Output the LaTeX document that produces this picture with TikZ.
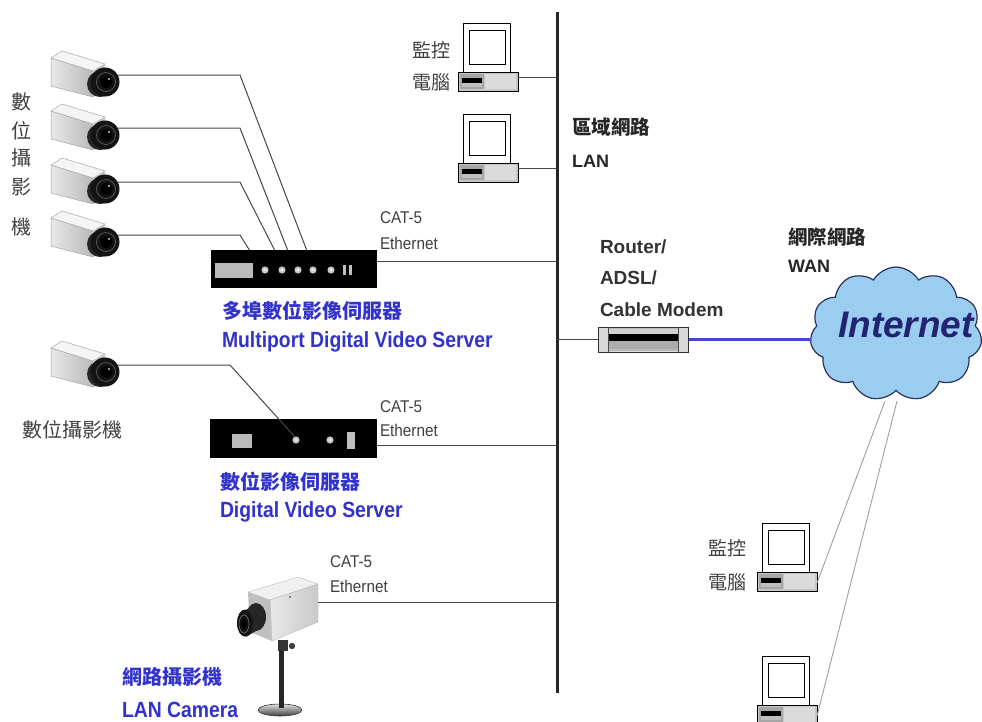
\documentclass[tikz,border=0pt]{standalone}
\usepackage{fontspec}
\setmainfont{Liberation Sans}
\newfontfamily\cjk{Noto Sans CJK TC}
\newfontfamily\narrow{Liberation Sans}[FakeStretch=0.9]
\newfontfamily\labelsans{Liberation Sans}[FakeStretch=0.88]
\usetikzlibrary{shapes.symbols}

\definecolor{labelblue}{RGB}{50,50,205}
\definecolor{cloudfill}{RGB}{155,205,240}
\definecolor{cloudline}{RGB}{40,50,90}
\definecolor{inetnavy}{RGB}{35,35,115}
\definecolor{wanblue}{RGB}{70,70,210}
\definecolor{wirecol}{RGB}{70,70,70}

\tikzset{
  txt/.style={inner sep=0pt, outer sep=0pt},
  pclabel/.style={txt, anchor=west, text=black!75, font={\cjk\fontsize{19}{19}\selectfont}},
  camlabel/.style={txt, text=black!75, font={\cjk\fontsize{20}{20}\selectfont}},
  netcjk/.style={txt, anchor=west, text=black!85, font={\cjk\bfseries\fontsize{19.5}{19.5}\selectfont}},
  netlatin/.style={txt, anchor=base west, text=black!85, font={\bfseries\fontsize{18}{18}\selectfont}},
  routerlabel/.style={txt, anchor=base west, text=black!80, font={\bfseries\fontsize{19}{19}\selectfont}},
  cablelabel/.style={txt, anchor=base west, text=black!75, font={\narrow\fontsize{17}{17}\selectfont}},
  bluecjk/.style={txt, anchor=west, text=labelblue, font={\cjk\bfseries\fontsize{20}{20}\selectfont}},
  bluelatin/.style={txt, anchor=base west, text=labelblue, font={\labelsans\bfseries\fontsize{22}{22}\selectfont}},
  wire/.style={draw=wirecol, line width=1pt},
  wanwire/.style={draw=gray!75, line width=0.9pt},
  % small box camera, origin at the lens centre
  boxcam/.pic={
    \shadedraw[left color=gray!18, right color=gray!55, draw=gray!70, line width=0.5pt]
      (-54,-24) -- (-12,-11) -- (-12,15) -- (-54,4) -- cycle;
    \filldraw[fill=gray!8, draw=gray!70, line width=0.5pt]
      (-54,-24) -- (-43,-31) -- (0,-18) -- (-12,-11) -- cycle;
    \fill[gray!45] (-12,-11) -- (0,-18) -- (0,10) -- (-12,15) -- cycle;
    \fill[black!85] (-5,2) circle (13);
    \fill[black!92] (0,0) circle (14.5);
    \draw[black!60, line width=0.6pt] (1,0) circle (9.5);
    \fill[black] (1.5,0) circle (6);
    \fill[gray!40] (4,-3) circle (1.2);
    \coordinate (-port) at (13,-7);
  },
  % desktop computer, origin at the top right corner of the base
  pc/.pic={
    \draw[line width=0.8pt, fill=white] (-55,-49) rectangle (-8,0);
    \draw[line width=0.8pt] (-49,-42) rectangle (-13,-8);
    \draw[line width=0.6pt, fill=gray!45] (-60,0) rectangle (0,19);
    \fill[gray!70] (-58,2) rectangle (-34,17);
    \fill[gray!50] (-56,11) rectangle (-36,15);
    \fill[black] (-56,6) rectangle (-36,11);
    \fill[gray!28] (-33,2) rectangle (-2,17);
    \coordinate (-lan) at (0,5);
    \coordinate (-wan) at (0,11);
  }
}

\begin{document}
\begin{tikzpicture}[x=1pt, y=-1pt]
\useasboundingbox (0,0) rectangle (982,721);
\fill[white] (0,0) rectangle (982,721);

% ---------- LAN backbone ----------
\coordinate (lanTop) at (557,12);
\coordinate (lanBot) at (557,693);
\draw[line width=3pt, black!85] (lanTop) -- (lanBot);

% ---------- monitoring PCs on the LAN ----------
\pic (pc1) at (518,72) {pc};
\pic (pc2) at (518,163) {pc};
\node[pclabel] (pc1a) at (412,50) {監控};
\node[pclabel] (pc1b) at (412,82) {電腦};
\draw[wire] (pc1-lan) -- (pc1-lan -| lanTop);
\draw[wire] (pc2-lan) -- (pc2-lan -| lanTop);

\node[netcjk] (lanzh) at (572,127) {區域網路};
\node[netlatin] (lanen) at (572,167) {LAN};

% ---------- four cameras and the multiport server ----------
\pic (c1) at (105,82) {boxcam};
\pic (c2) at (105,135) {boxcam};
\pic (c3) at (105,189) {boxcam};
\pic (c4) at (105,242) {boxcam};

\node[camlabel] (v1) at (22,102) {數};
\node[camlabel] (v2) at (22,131) {位};
\node[camlabel] (v3) at (22,158) {攝};
\node[camlabel] (v4) at (22,187) {影};
\node[camlabel] (v5) at (22,227) {機};

\coordinate (bendA) at (240,0);
\coordinate (mpsIn1) at (307,251);
\coordinate (mpsIn2) at (288,251);
\coordinate (mpsIn3) at (275,251);
\coordinate (mpsIn4) at (250,251);
\draw[wire] (c1-port) -- (c1-port -| bendA) -- (mpsIn1);
\draw[wire] (c2-port) -- (c2-port -| bendA) -- (mpsIn2);
\draw[wire] (c3-port) -- (c3-port -| bendA) -- (mpsIn3);
\draw[wire] (c4-port) -- (c4-port -| bendA) -- (mpsIn4);

\node[fill=black, minimum width=166pt, minimum height=38pt, inner sep=0pt, anchor=north west] (mps) at (211,250) {};
\fill[gray!55] (215,263) rectangle (253,278);
\foreach \px in {265,282,298,313,331}{
  \fill[gray!45] (\px,270) circle (3.6);
  \fill[white!85!gray] (\px,270) circle (1.6);
}
\fill[gray!50] (343,265) rectangle (345.5,275);
\fill[gray!50] (349,265) rectangle (351.5,275);
\coordinate (mpsOut) at (377,261);
\draw[wire] (mpsOut) -- (mpsOut -| lanTop);
\node[cablelabel] (cat1) at (380,223) {CAT-5};
\node[cablelabel] (eth1) at (380,249) {Ethernet};
\node[bluecjk] (mpszh) at (222,311) {多埠數位影像伺服器};
\node[bluelatin] (mpsen) at (222,347) {Multiport Digital Video Server};

% ---------- single camera and video server ----------
\pic (c5) at (105,372) {boxcam};
\node[camlabel, anchor=west] (c5lbl) at (22,430) {數位攝影機};

\node[fill=black, minimum width=167pt, minimum height=39pt, inner sep=0pt, anchor=north west] (dvs) at (210,419) {};
\fill[gray!55] (232,434) rectangle (252,448);
\fill[gray!45] (296,440) circle (3.6);
\fill[white!85!gray] (296,440) circle (1.6);
\fill[gray!45] (330,440) circle (3.6);
\fill[white!85!gray] (330,440) circle (1.6);
\fill[gray!50] (347,432) rectangle (355,449);
\coordinate (bendB) at (230,0);
\coordinate (dvsIn) at (295,437);
\draw[wire] (c5-port) -- (c5-port -| bendB) -- (dvsIn);
\coordinate (dvsOut) at (377,445);
\draw[wire] (dvsOut) -- (dvsOut -| lanTop);
\node[cablelabel] (cat2) at (380,412) {CAT-5};
\node[cablelabel] (eth2) at (380,436) {Ethernet};
\node[bluecjk] (dvszh) at (220,482) {數位影像伺服器};
\node[bluelatin] (dvsen) at (220,517) {Digital Video Server};

% ---------- LAN camera on its stand ----------
\shadedraw[top color=gray!25, bottom color=black!75, draw=black!80, line width=0.6pt] (280,710) ellipse (22 and 6);
\fill[black!85] (279,646) rectangle (284,708);
\fill[black!80] (278,640) rectangle (288,651);
\fill[black!75] (292,646) circle (3.2);
\filldraw[fill=gray!12, draw=gray!55, line width=0.4pt] (248,592) -- (298,577) -- (318,584) -- (270,600) -- cycle;
\shadedraw[left color=gray!18, right color=gray!42, draw=gray!55, line width=0.4pt] (270,600) -- (318,584) -- (318,622) -- (272,641) -- cycle;
\fill[gray!50] (248,592) -- (270,600) -- (272,641) -- (250,632) -- cycle;
\fill[black!60] (290,597) circle (1.2);
\fill[black!85] (256,617) ellipse (10 and 14);
\fill[black!85] (246,610) -- (256,603) -- (256,631) -- (246,637) -- cycle;
\fill[black!92] (245,623) ellipse (8 and 13.5);
\draw[black!55, line width=0.6pt] (244,624) ellipse (5 and 9);
\fill[black] (244,624) ellipse (3 and 5.5);
\coordinate (lcOut) at (318,602);
\draw[wire] (lcOut) -- (lcOut -| lanTop);
\node[cablelabel] (cat3) at (330,567) {CAT-5};
\node[cablelabel] (eth3) at (330,592) {Ethernet};
\node[bluecjk] (lczh) at (122,677) {網路攝影機};
\node[bluelatin] (lcen) at (122,717) {LAN Camera};

% ---------- router and the Internet ----------
\node[draw=black!80, line width=0.6pt, fill=gray!30, minimum width=90pt, minimum height=25pt, inner sep=0pt, anchor=north west] (router) at (598,327) {};
\fill[gray!55] (608,328) rectangle (678,351);
\fill[gray!35] (608,329) rectangle (678,334);
\fill[black] (608,334) rectangle (678,341);
\fill[gray!65] (608,341) rectangle (678,349);
\draw[black!70, line width=0.5pt] (608,327) -- (608,352) (678,327) -- (678,352);
\draw[wire] (router.west) -- (router.west -| lanTop);
\node[routerlabel] (rt1) at (600,253) {Router/};
\node[routerlabel] (rt2) at (600,284) {ADSL/};
\node[routerlabel] (rt3) at (600,316) {Cable Modem};

\node[cloud, cloud puffs=11, cloud puff arc=120, cloud ignores aspect, draw=cloudline, line width=1.2pt, fill=cloudfill, minimum width=172pt, minimum height=134pt] (net) at (896,334) {};
\node[txt, anchor=base, text=inetnavy, font={\bfseries\itshape\fontsize{37}{37}\selectfont}] (inet) at (906,337) {Internet};
\draw[draw=wanblue, line width=3pt] (router.east) -- (router.east -| net.west);
\node[netcjk] (wanzh) at (788,237) {網際網路};
\node[netlatin] (wanen) at (788,272) {WAN};

% ---------- remote monitoring PCs ----------
\pic (pc3) at (817,572) {pc};
\pic (pc4) at (817,705) {pc};
\node[pclabel] (pc3a) at (708,548) {監控};
\node[pclabel] (pc3b) at (708,582) {電腦};
\coordinate (wanA) at (885,401);
\coordinate (wanB) at (897,401);
\draw[wanwire] (wanA) -- (pc3-wan);
\draw[wanwire] (wanB) -- (pc4-wan);
\end{tikzpicture}
\end{document}
